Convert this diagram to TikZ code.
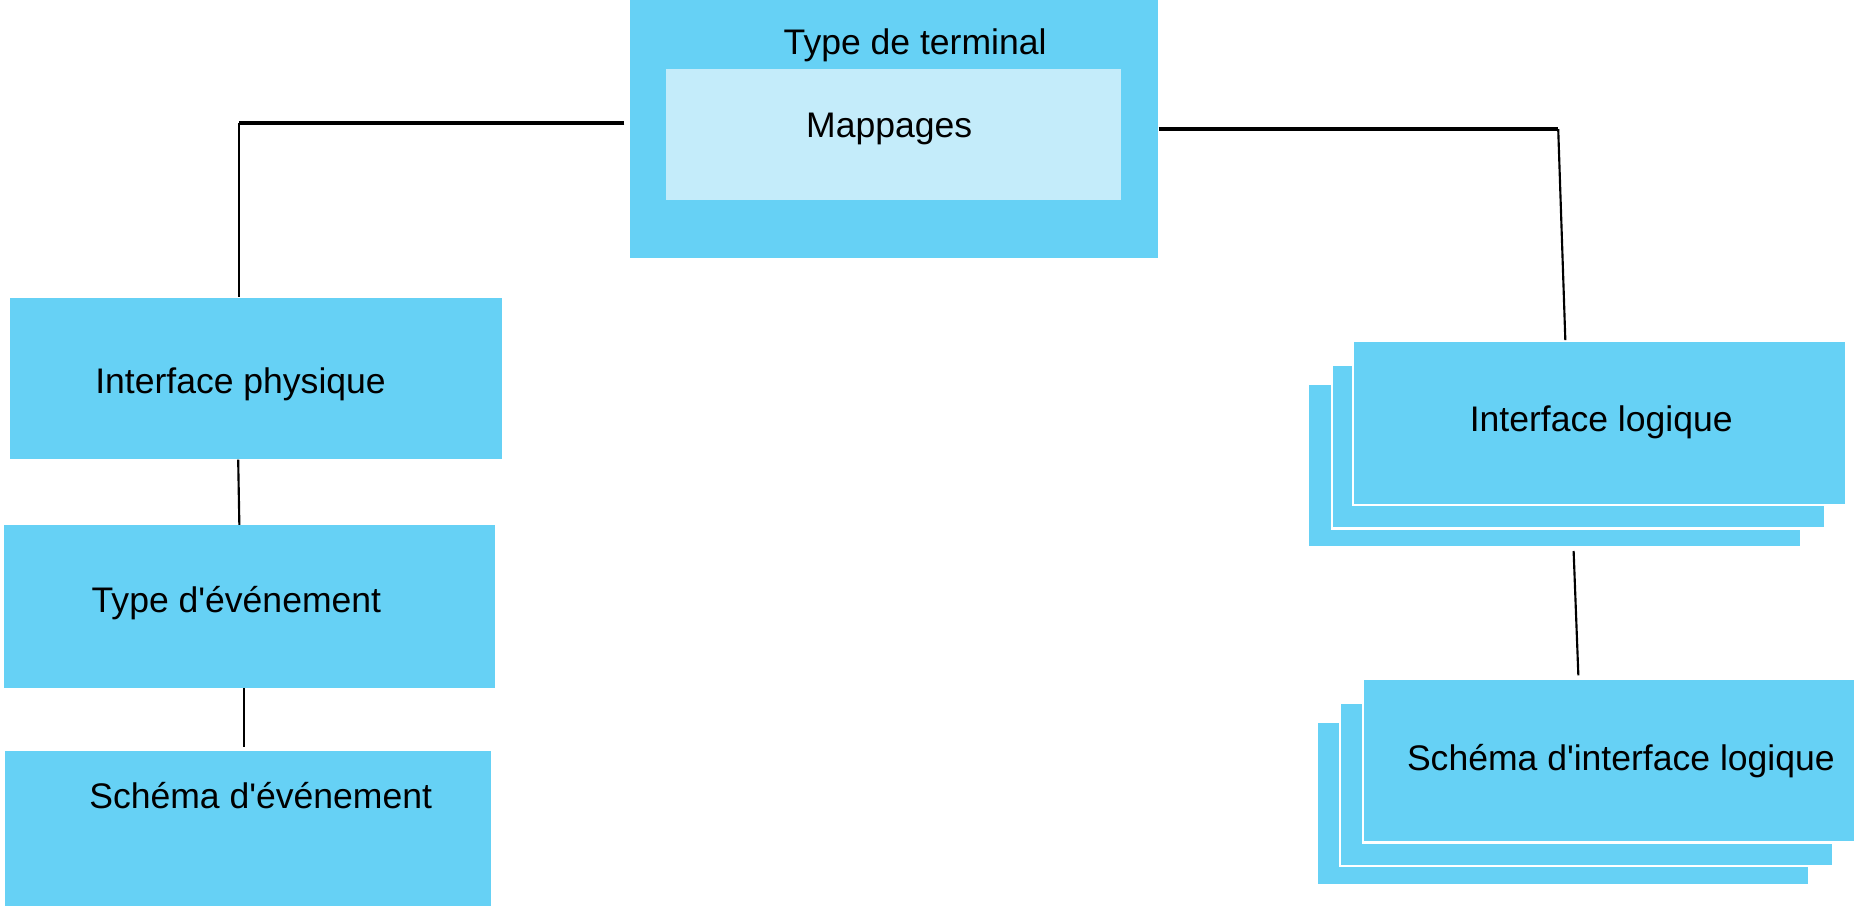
\documentclass[tikz,border=0pt]{standalone}
\usepackage{fontspec}
\setmainfont{Liberation Sans}
\usetikzlibrary{calc}

\definecolor{boxblue}{RGB}{102,209,245}
\definecolor{paleblue}{RGB}{196,236,250}

\begin{document}
\begin{tikzpicture}[x=0.5pt, y=-0.5pt,
    box/.style={rectangle, fill=boxblue, inner sep=0pt, anchor=north west},
    stackbox/.style={box, draw=white, line width=1pt, minimum width=208pt, minimum height=69pt},
    lbl/.style={anchor=base west, inner sep=0pt, font=\fontsize{15}{18}\selectfont},
    hline/.style={line width=1.5pt},
    vline/.style={line width=0.9pt}]
    \useasboundingbox (0,0) rectangle (1568,764);

    % Draw nodes
    \node[box, minimum width=223pt, minimum height=108.5pt] (term) at (531,0) {};
    \node[box, fill=paleblue, minimum width=192pt, minimum height=55pt] (map) at (562,58) {};
    \node[box, minimum width=207.5pt, minimum height=68pt] (phys) at (8,251) {};
    \node[box, minimum width=207pt, minimum height=68.5pt] (evtype) at (3,443) {};
    \node[box, minimum width=205pt, minimum height=65.5pt] (evschema) at (4,633) {};
    \node[stackbox] (logicback) at (1103,323) {};
    \node[stackbox] (logicmid) at (1123,307) {};
    \node[stackbox] (logic) at (1141,287) {};
    \node[stackbox] (lschemaback) at (1110,608) {};
    \node[stackbox] (lschemamid) at (1130,592) {};
    \node[stackbox] (lschema) at (1149,572) {};

    % Draw connections
    \coordinate (lcorner) at (202,104);
    \coordinate (rcorner) at (1315,109);
    \draw[hline] ($(term.north west)+(-4,104)$) -- (lcorner);
    \draw[vline] (lcorner) -- (phys.north -| lcorner);
    \draw[vline] ($(phys.south west)+(193,0)$) -- ($(evtype.north west)+(199,0)$);
    \draw[vline] ($(evtype.south west)+(203,0)$) -- ($(evschema.north west)+(202,-3)$);
    \draw[hline] (term.east |- rcorner) -- (rcorner);
    \draw[vline] (rcorner) -- ($(logic.north west)+(180,0)$);
    \draw[vline] ($(logicback.south west)+(225,2)$) -- ($(lschema.north west)+(183,-2)$);

    % Labels
    \node[lbl] (termtxt) at (661,46) {Type de terminal};
    \node[lbl] (maptxt) at (680,116) {Mappages};
    \node[lbl] (phystxt) at (80,332) {Interface physique};
    \node[lbl] (evtypetxt) at (77,517) {Type d\textquotesingle événement};
    \node[lbl] (evschematxt) at (75,682) {Schéma d\textquotesingle événement};
    \node[lbl] (logictxt) at (1240,364) {Interface logique};
    \node[lbl] (lschematxt) at (1187,650) {Schéma d\textquotesingle interface logique};
\end{tikzpicture}
\end{document}
